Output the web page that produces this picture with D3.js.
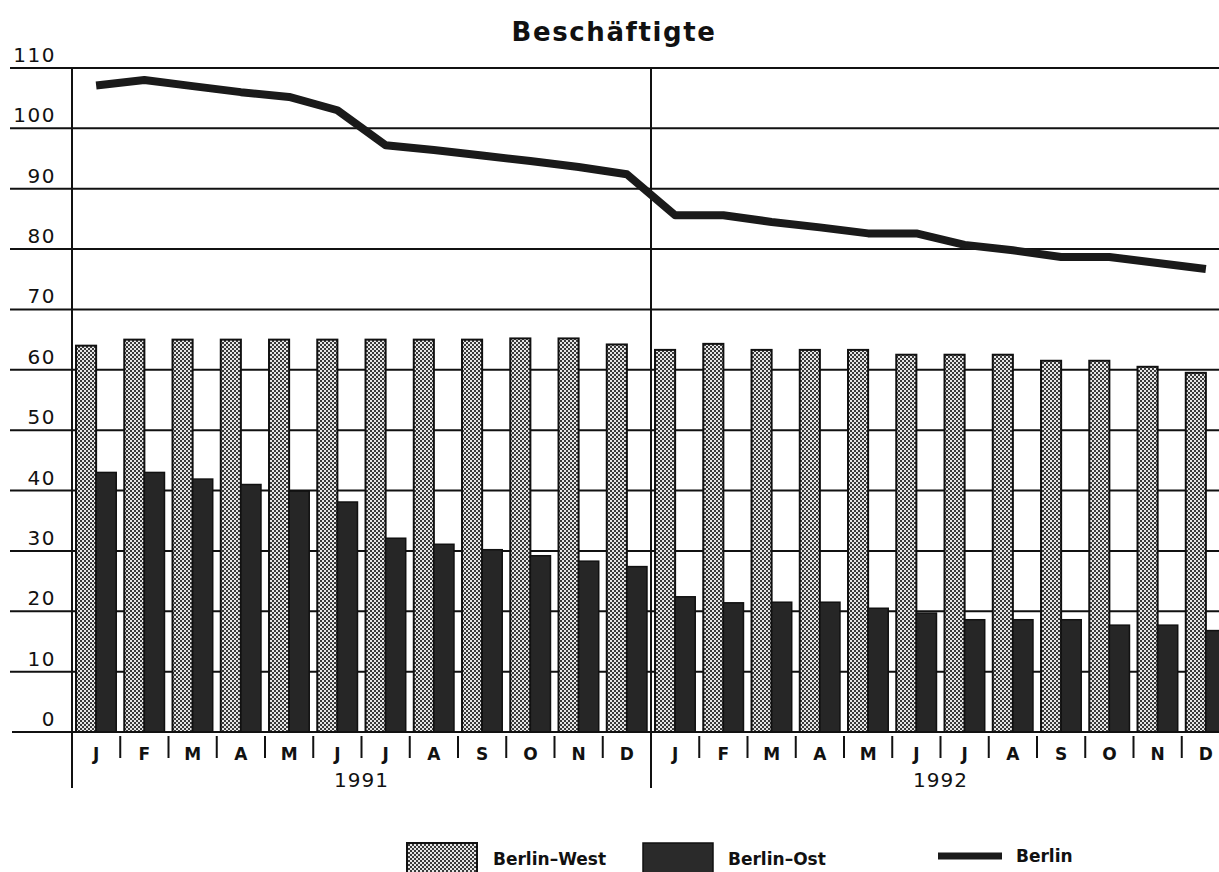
<!DOCTYPE html>
<html>
<head>
<meta charset="utf-8">
<script src="https://cdn.jsdelivr.net/npm/d3@7"></script>
<style>
  html, body { margin: 0; padding: 0; background: #fff; }
  svg { display: block; }
  text { font-family: "DejaVu Sans", "Liberation Sans", Arial, sans-serif; fill: #111; }
</style>
</head>
<body>
<svg id="chart" width="1219" height="872"></svg>
<script>
// ---- data ----
const months = ["J","F","M","A","M","J","J","A","S","O","N","D"];
const years = ["1991","1992"];
const berlinWest = [64.0, 65.0, 65.0, 65.0, 65.0, 65.0, 65.0, 65.0, 65.0, 65.2, 65.2, 64.2,
                    63.3, 64.3, 63.3, 63.3, 63.3, 62.5, 62.5, 62.5, 61.5, 61.5, 60.5, 59.5];
const berlinOst  = [43.0, 43.0, 41.9, 41.0, 39.9, 38.1, 32.1, 31.1, 30.2, 29.2, 28.3, 27.4,
                    22.4, 21.4, 21.5, 21.5, 20.5, 19.7, 18.6, 18.6, 18.6, 17.7, 17.7, 16.8];
const berlin     = [107.1, 108.0, 107.0, 106.0, 105.2, 103.0, 97.2, 96.4, 95.5, 94.6, 93.6, 92.4,
                    85.6, 85.6, 84.5, 83.6, 82.6, 82.6, 80.7, 79.8, 78.7, 78.7, 77.7, 76.7];
const yTicks = [0, 10, 20, 30, 40, 50, 60, 70, 80, 90, 100, 110];
const seriesNames = ["Berlin-West", "Berlin-Ost", "Berlin"];
const title = "Beschäftigte";

// ---- layout ----
const svg = d3.select("#chart");
const mLeft = 72, mTop = 68, mBottom = 732;
const step = 48.25;
const ids = d3.range(24);
const x = d3.scaleBand().domain(ids).range([mLeft, mLeft + 24 * step]).padding(0);
const xi = d3.scaleBand().domain(["West", "Ost"]).range([0, x.bandwidth()]).paddingInner(0).paddingOuter(0.2);
const y = d3.scaleLinear().domain([0, 110]).range([mBottom, mTop]);

// pattern
const defs = svg.append("defs");
const pat = defs.append("pattern").attr("id", "checker")
  .attr("width", 4).attr("height", 4).attr("patternUnits", "userSpaceOnUse");
pat.append("rect").attr("width", 4).attr("height", 4).attr("fill", "#e6e6e6");
pat.append("rect").attr("x", 0).attr("y", 0).attr("width", 2).attr("height", 2).attr("fill", "#3a3a3a");
pat.append("rect").attr("x", 2).attr("y", 2).attr("width", 2).attr("height", 2).attr("fill", "#3a3a3a");

// title
svg.append("text").attr("x", 614).attr("y", 41).attr("text-anchor", "middle")
  .style("font-size", "26px").style("font-weight", "bold").style("letter-spacing", "1.6px")
  .text(title);

// gridlines
svg.append("g").selectAll("line").data(yTicks.filter(d => d > 0)).join("line")
  .attr("x1", 10).attr("x2", 1219)
  .attr("y1", d => y(d)).attr("y2", d => y(d))
  .attr("stroke", "#111").attr("stroke-width", 2);

// y labels
svg.append("g").selectAll("text").data(yTicks).join("text")
  .attr("x", 56).attr("y", d => y(d) - 6).attr("text-anchor", "end")
  .style("font-size", "20px").style("letter-spacing", "1.5px")
  .text(d => d);

// bars
const g = svg.append("g");
g.selectAll("rect.west").data(ids).join("rect").attr("class", "west")
  .attr("x", i => x(i) + xi("West")).attr("width", xi.bandwidth())
  .attr("y", i => y(berlinWest[i])).attr("height", i => y(0) - y(berlinWest[i]))
  .attr("fill", "url(#checker)").attr("stroke", "#111").attr("stroke-width", 2);
g.selectAll("rect.ost").data(ids).join("rect").attr("class", "ost")
  .attr("x", i => x(i) + xi("Ost")).attr("width", xi.bandwidth())
  .attr("y", i => y(berlinOst[i])).attr("height", i => y(0) - y(berlinOst[i]))
  .attr("fill", "#262626").attr("stroke", "#111").attr("stroke-width", 1.5);

// x axis line
svg.append("line").attr("x1", 12).attr("x2", 1219).attr("y1", mBottom).attr("y2", mBottom)
  .attr("stroke", "#111").attr("stroke-width", 2);

// y axis + year dividers
[0, 12].forEach(i => {
  svg.append("line").attr("x1", x(i)).attr("x2", x(i)).attr("y1", mTop).attr("y2", 788)
    .attr("stroke", "#111").attr("stroke-width", 2);
});

// month ticks
svg.append("g").selectAll("line").data(ids.filter(i => i % 12 !== 0)).join("line")
  .attr("x1", i => x(i)).attr("x2", i => x(i)).attr("y1", mBottom + 4).attr("y2", mBottom + 26)
  .attr("stroke", "#111").attr("stroke-width", 2);

// month labels
svg.append("g").selectAll("text").data(ids).join("text")
  .attr("x", i => x(i) + x.bandwidth() / 2).attr("y", 760).attr("text-anchor", "middle")
  .style("font-size", "17px").style("font-weight", "bold")
  .text(i => months[i % 12]);

// year labels
svg.append("g").selectAll("text").data(years).join("text")
  .attr("x", (d, k) => (x(k * 12) + x(k * 12) + 12 * step) / 2)
  .attr("y", 787).attr("text-anchor", "middle")
  .style("font-size", "20px").style("letter-spacing", "1px")
  .text(d => d);

// line
const line = d3.line().x(i => x(i) + x.bandwidth() / 2).y(i => y(berlin[i]));
svg.append("path").datum(ids).attr("d", line)
  .attr("fill", "none").attr("stroke", "#1a1a1a").attr("stroke-width", 8)
  .attr("stroke-linejoin", "round");

// legend
const lg = svg.append("g");
lg.append("rect").attr("x", 407).attr("y", 843).attr("width", 70).attr("height", 30)
  .attr("fill", "url(#checker)").attr("stroke", "#111").attr("stroke-width", 2);
lg.append("text").attr("x", 493).attr("y", 865).style("font-size", "17px").style("font-weight", "bold")
  .text(seriesNames[0].replace("-", "\u2013"));
lg.append("rect").attr("x", 643).attr("y", 843).attr("width", 70).attr("height", 30)
  .attr("fill", "#2a2a2a").attr("stroke", "#111").attr("stroke-width", 1.5);
lg.append("text").attr("x", 728).attr("y", 865).style("font-size", "17px").style("font-weight", "bold")
  .text(seriesNames[1].replace("-", "\u2013"));
lg.append("line").attr("x1", 938).attr("x2", 1002).attr("y1", 856).attr("y2", 856)
  .attr("stroke", "#1a1a1a").attr("stroke-width", 7);
lg.append("text").attr("x", 1016).attr("y", 862).style("font-size", "17px").style("font-weight", "bold")
  .text(seriesNames[2]);
</script>
</body>
</html>
